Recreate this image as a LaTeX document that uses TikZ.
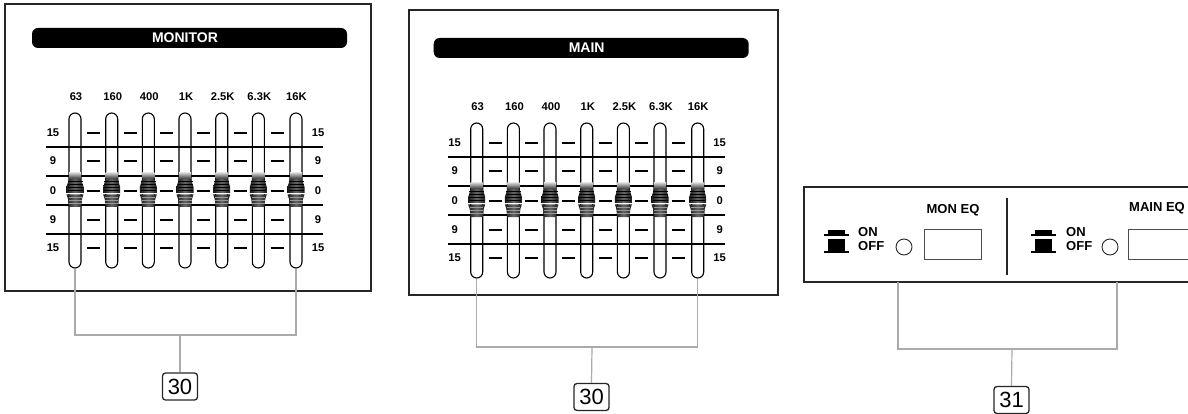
\documentclass[tikz,border=0pt]{standalone}
\usepackage{fontspec}
\setmainfont{Liberation Sans}
\begin{document}
\begin{tikzpicture}[x=1pt,y=-1pt,
  panel/.style={draw=black!85,line width=2pt},
  titlebar/.style={fill=black,rounded corners=6pt,minimum width=315pt,minimum height=20pt,inner sep=0pt,text=white,font=\fontsize{14}{14}\selectfont\bfseries},
  track/.style={draw=black,line width=1.1pt,rounded corners=6pt,minimum width=12pt,minimum height=155pt,inner sep=0pt},
  lbl/.style={font=\fontsize{11.2}{11.2}\selectfont\bfseries,inner sep=0pt},
  rowline/.style={draw=black,line width=1.2pt},
  tick/.style={draw=black,line width=2.6pt},
  leader/.style={draw=black!33,line width=1.2pt},
  callout/.style={draw=black!85,line width=1.3pt,rounded corners=3pt,minimum width=35pt,minimum height=27pt,inner sep=0pt,font=\fontsize{22}{22}\selectfont},
  swtext/.style={font=\fontsize{13}{13}\selectfont\bfseries,inner sep=0pt,anchor=west},
  eqtext/.style={font=\fontsize{13}{13}\selectfont\bfseries,inner sep=0pt},
  knob/.pic={
    \shade[top color=black!20,bottom color=black!80] (-6,-18) rectangle (6,-12);
    \shade[left color=black!90,right color=black!90,middle color=black!60] (-6,-12) -- (6,-12) -- (8.5,-4) -- (8.5,2) -- (-8.5,2) -- (-8.5,-4) -- cycle;
    \foreach \yy in {-9.5,-6.5,-3.5,-0.5} \draw[black,line width=0.9pt] (-7.5,\yy) -- (7.5,\yy);
    \fill[white] (-8.5,2) rectangle (8.5,3.4);
    \shade[left color=black!90,right color=black!90,middle color=black!60] (-8.5,3.4) -- (8.5,3.4) -- (7,8) -- (6,16) -- (-6,16) -- (-7,8) -- cycle;
    \foreach \yy in {6.5,9.5,12.5} \draw[black!40,line width=0.7pt] (-6.5,\yy) -- (6.5,\yy);
  },
  switchsym/.pic={
    \fill[black] (4,-6) rectangle (21,-2);
    \fill[black] (0,-2) rectangle (25,0);
    \fill[black] (4,3) rectangle (21,15);
    \fill[black] (0,15) rectangle (25,17);
  }
]
\useasboundingbox (0,0) rectangle (1188,414);
\clip (0,0) rectangle (1188,414);

\newcommand\eqpanel[3]{%
\begin{scope}[shift={#3}]
  \node[titlebar] (#1title) at (189.5,38) {\hspace*{-9pt}#2};
  \foreach \x [count=\i] in {75,111.7,148.3,185,221.7,258.3,296}
    \node[track] (#1t\i) at (\x,190.5) {};
  \foreach \x/\t [count=\i] in {76/63,112.7/160,149.3/400,186/1K,222.7/2.5K,259.3/6.3K,296.5/16K}
    \node[lbl] (#1f\i) at (\x,97) {\t};
  \foreach \y/\t [count=\i] in {133/15,161/9,191/0,220/9,248/15}{
    \node[lbl] (#1l\i) at (53,\y) {\t};
    \node[lbl] (#1r\i) at (318,\y) {\t};
    \foreach \x in {93.3,130,166.7,203.3,240,277.2}
      \draw[tick] (\x-6.5,\y) -- (\x+6.5,\y);
  }
  \foreach \y in {147,176,205,234}
    \draw[rowline] (46,\y) -- (323,\y);
  \foreach \x in {75,111.7,148.3,185,221.7,258.3,296}
    \pic at (\x,191) {knob};
\end{scope}}

% panel MONITOR
\draw[panel] (4.5,4.5) rectangle (371,290.5);
\eqpanel{m}{MONITOR}{(0,0)}
% panel MAIN
\draw[panel] (409,10) rectangle (778,295);
\eqpanel{a}{MAIN}{(401.7,10)}

% callouts 30
\node[callout] (c1) at (180,386.5) {30};
\node[callout] (c2) at (591.5,397) {30};
\coordinate (j1) at (180,335);
\coordinate (j2) at (592,347);
\draw[leader] (mt1.south) |- (j1) -| (mt7.south);
\draw[leader] (j1) -- (c1.north);
\draw[leader] (at1.south) |- (j2) -| (at7.south);
\draw[leader] (j2) -- (c2.north);

% panel 3 : EQ switches
\draw[panel] (1200,187) -- (804,187) -- (804,282) -- (1200,282);
\draw[black!85,line width=1.5pt] (1007,198) -- (1007,275);
\node[eqtext] (moneq) at (953,210) {MON EQ};
\node[eqtext] (maineq) at (1157,208) {MAIN EQ};
\pic at (824,236) {switchsym};
\pic at (1031,236) {switchsym};
\node[swtext] (on1) at (858,232) {ON};
\node[swtext] (off1) at (858,246.5) {OFF};
\node[swtext] (on2) at (1066,232) {ON};
\node[swtext] (off2) at (1066,246.5) {OFF};
\node[draw=black!85,line width=0.9pt,circle,minimum size=16pt,inner sep=0pt] (led1) at (904,247) {};
\node[draw=black!85,line width=0.9pt,circle,minimum size=16pt,inner sep=0pt] (led2) at (1110,247) {};
\node[draw=black!70,line width=0.9pt,minimum width=57pt,minimum height=30pt,inner sep=0pt] (sw1) at (952.5,244) {};
\node[draw=black!70,line width=0.9pt,minimum width=67pt,minimum height=30pt,inner sep=0pt] (sw2) at (1161.5,244) {};

\node[callout] (c3) at (1011.5,400) {31};
\coordinate (b1) at (898,282);
\coordinate (b2) at (1117,282);
\coordinate (j3) at (1012,349);
\draw[leader] (b1) |- (j3) -| (b2);
\draw[leader] (j3) -- (c3.north);
\end{tikzpicture}
\end{document}
